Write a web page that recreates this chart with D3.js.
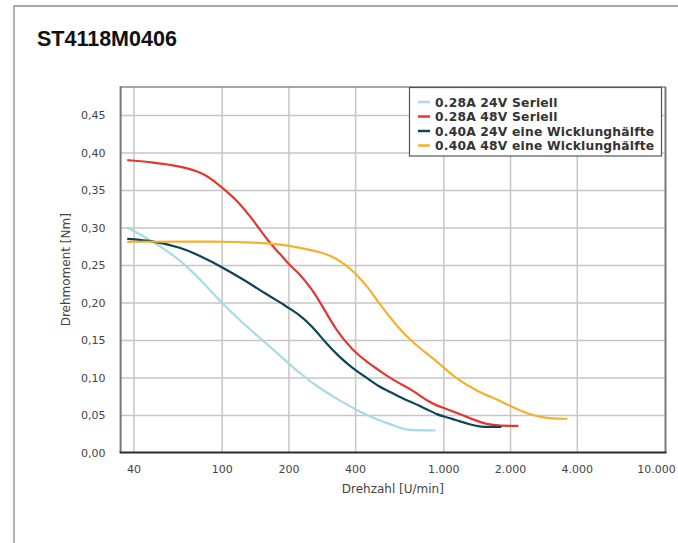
<!DOCTYPE html>
<html>
<head>
<meta charset="utf-8">
<script src="https://cdn.jsdelivr.net/npm/d3@7"></script>
<style>
  html, body { margin: 0; padding: 0; background: #fff; }
  svg { display: block; }
</style>
</head>
<body>
<svg id="chart" width="678" height="543"></svg>
<script>
// ---------- data ----------
const chartTitle = "ST4118M0406";
const xAxisTitle = "Drehzahl [U/min]";
const yAxisTitle = "Drehmoment [Nm]";
const seriesNames = [
  "0.28A 24V Seriell",
  "0.28A 48V Seriell",
  "0.40A 24V eine Wicklunghälfte",
  "0.40A 48V eine Wicklunghälfte"
];
const seriesColors = ["#a6dbe3", "#e0382f", "#0b4658", "#f5b02c"];
const xTickValues = [40, 100, 200, 400, 1000, 2000, 4000, 10000];
const yTickValues = [0, 0.05, 0.10, 0.15, 0.20, 0.25, 0.30, 0.35, 0.40, 0.45];

// [rpm, torque Nm]
const blue24 = [[37.5,0.300],[46,0.286],[59,0.266],[70,0.248],[83,0.226],[98,0.202],[125,0.172],[150,0.152],[182,0.130],[224,0.106],[275,0.086],[338,0.070],[415,0.055],[500,0.044],[585,0.037],[660,0.031],[720,0.0296],[920,0.0296]];
const red48 = [[37.5,0.390],[49,0.387],[65,0.382],[83,0.373],[98,0.356],[117,0.337],[138,0.311],[164,0.280],[182,0.266],[202,0.250],[224,0.239],[257,0.217],[285,0.195],[327,0.164],[387,0.137],[460,0.119],[511,0.110],[565,0.101],[626,0.093],[719,0.084],[854,0.068],[946,0.062],[1012,0.059],[1124,0.054],[1333,0.045],[1584,0.037],[1800,0.0356],[2180,0.0356]];
const navy24 = [[37.5,0.285],[49,0.282],[65,0.274],[83,0.260],[98,0.249],[125,0.231],[159,0.211],[182,0.201],[202,0.192],[224,0.184],[257,0.168],[295,0.146],[338,0.128],[387,0.113],[460,0.098],[511,0.088],[565,0.082],[626,0.075],[719,0.067],[826,0.059],[946,0.050],[1012,0.048],[1124,0.0437],[1333,0.037],[1450,0.0340],[1830,0.0340]];
const yellow48 = [[37.5,0.281],[98,0.2815],[150,0.280],[202,0.276],[224,0.273],[275,0.268],[315,0.262],[362,0.2505],[400,0.2395],[460,0.2195],[511,0.1995],[585,0.1772],[700,0.1505],[885,0.127],[1000,0.114],[1124,0.100],[1432,0.081],[1750,0.071],[2160,0.057],[2560,0.049],[3030,0.045],[3630,0.045]];
const seriesData = [blue24, red48, navy24, yellow48];

// ---------- layout ----------
const svg = d3.select("#chart");
const plot = { left: 120.6, right: 665, top: 87, bottom: 452.5 };

const x = d3.scaleLog().domain([35, 10000]).range([plot.left, plot.right]);
const y = d3.scaleLinear().domain([0, 0.4875]).range([plot.bottom, plot.top]);

const de = d3.formatLocale({ decimal: ",", thousands: ".", grouping: [3], currency: ["", " €"] });
const fmtX = de.format(",d");
const fmtY = de.format(".2f");

// card border
svg.append("path")
  .attr("d", "M14,543 L14,6 L678,6")
  .attr("fill", "none").attr("stroke", "#8a8a8a").attr("stroke-width", 1.3);

// title
svg.append("text")
  .attr("x", 37).attr("y", 46)
  .attr("font-family", "Liberation Sans, Arial, sans-serif")
  .attr("font-size", 21.5).attr("font-weight", "bold")
  .attr("fill", "#111")
  .text(chartTitle);

// grid
const gridX = svg.append("g")
  .attr("transform", `translate(0,${plot.bottom})`)
  .call(d3.axisBottom(x).tickValues(xTickValues).tickSize(-(plot.bottom - plot.top)).tickFormat(""));
const gridY = svg.append("g")
  .attr("transform", `translate(${plot.left},0)`)
  .call(d3.axisLeft(y).tickValues(yTickValues.slice(1)).tickSize(-(plot.right - plot.left)).tickFormat(""));
[gridX, gridY].forEach(g => {
  g.select(".domain").remove();
  g.selectAll(".tick line").attr("stroke", "#c6c6c6").attr("stroke-width", 1.5);
});

// plot frame
svg.append("line").attr("x1", plot.left).attr("x2", plot.right + 1).attr("y1", plot.top).attr("y2", plot.top)
  .attr("stroke", "#888").attr("stroke-width", 1.6);
svg.append("line").attr("x1", plot.right + 0.5).attr("x2", plot.right + 0.5).attr("y1", plot.top).attr("y2", plot.bottom)
  .attr("stroke", "#808080").attr("stroke-width", 2);

// axes with labels
const xAxis = svg.append("g")
  .attr("transform", `translate(0,${plot.bottom})`)
  .call(d3.axisBottom(x).tickValues(xTickValues).tickSize(0).tickPadding(13).tickFormat(fmtX));
xAxis.select(".domain").remove();
// last label is pushed left so it stays inside the window
xAxis.selectAll(".tick").filter(d => d === 10000).select("text").attr("dx", -9);

const yAxis = svg.append("g")
  .attr("transform", `translate(${plot.left},0)`)
  .call(d3.axisLeft(y).tickValues(yTickValues).tickSize(0).tickPadding(15).tickFormat(fmtY));
yAxis.select(".domain").remove();

[xAxis, yAxis].forEach(g => {
  g.selectAll(".tick text")
    .attr("font-family", "DejaVu Sans, Verdana, sans-serif")
    .attr("font-size", 11)
    .attr("fill", "#444");
});

svg.append("line").attr("x1", plot.left).attr("x2", plot.left).attr("y1", plot.top - 0.8).attr("y2", plot.bottom)
  .attr("stroke", "#777").attr("stroke-width", 2);
svg.append("line").attr("x1", plot.left - 1).attr("x2", plot.right + 1.5).attr("y1", plot.bottom).attr("y2", plot.bottom)
  .attr("stroke", "#2a2a2a").attr("stroke-width", 2);

// axis titles
svg.append("text")
  .attr("x", (plot.left + plot.right) / 2).attr("y", 493)
  .attr("text-anchor", "middle")
  .attr("font-family", "DejaVu Sans, Verdana, sans-serif")
  .attr("font-size", 12).attr("fill", "#444")
  .text(xAxisTitle);
svg.append("text")
  .attr("transform", `translate(69.5,${(plot.top + plot.bottom) / 2}) rotate(-90)`)
  .attr("text-anchor", "middle")
  .attr("font-family", "DejaVu Sans, Verdana, sans-serif")
  .attr("font-size", 12).attr("fill", "#444")
  .text(yAxisTitle);

// lines
const line = d3.line()
  .x(d => x(d[0]))
  .y(d => y(d[1]))
  .curve(d3.curveBasis);

svg.append("g").selectAll("path")
  .data(seriesData)
  .join("path")
  .attr("d", d => line(d))
  .attr("fill", "none")
  .attr("stroke", (d, i) => seriesColors[i])
  .attr("stroke-width", 2.2)
  .attr("stroke-linejoin", "round");

// legend
const lg = svg.append("g");
lg.append("rect")
  .attr("x", 409.5).attr("y", 87.5).attr("width", 252).attr("height", 68.5)
  .attr("fill", "#fff").attr("stroke", "#555").attr("stroke-width", 1.2);
const rowY = [102, 116.5, 131, 145.5];
const rows = lg.selectAll("g.row").data(seriesNames).join("g").attr("class", "row");
rows.append("line")
  .attr("x1", 418).attr("x2", 430)
  .attr("y1", (d, i) => rowY[i]).attr("y2", (d, i) => rowY[i])
  .attr("stroke", (d, i) => seriesColors[i]).attr("stroke-width", 2.5);
rows.append("text")
  .attr("x", 435).attr("y", (d, i) => rowY[i] + 4.5)
  .attr("font-family", "DejaVu Sans, Verdana, sans-serif")
  .attr("font-size", 12.3).attr("font-weight", "bold")
  .attr("letter-spacing", 0.2)
  .attr("fill", "#333")
  .text(d => d);
</script>
</body>
</html>
